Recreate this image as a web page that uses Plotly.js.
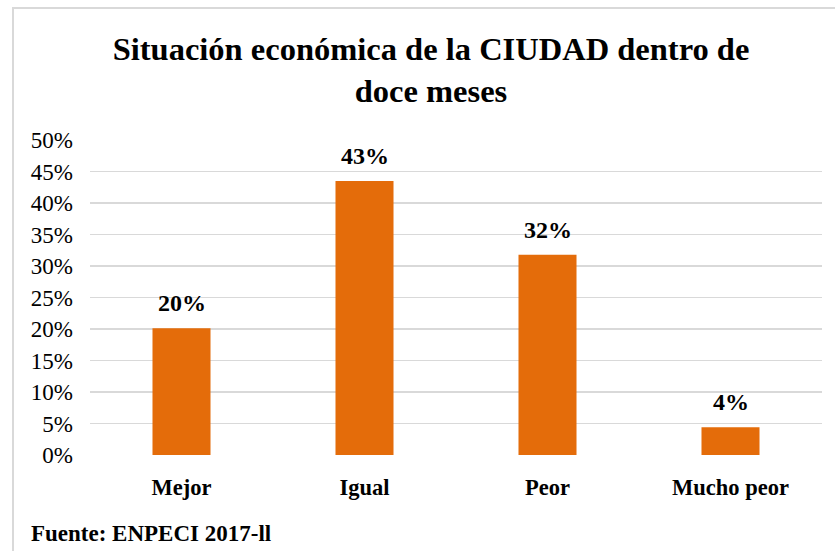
<!DOCTYPE html>
<html>
<head>
<meta charset="utf-8">
<script src="https://cdn.plot.ly/plotly-3.0.1.min.js"></script>
<style>
html, body { margin: 0; padding: 0; background: #ffffff; }
#chart { width: 835px; height: 551px; }
</style>
</head>
<body>
<div id="chart"></div>
<script>
var categories = ["Mejor", "Igual", "Peor", "Mucho peor"];
var values = [0.201, 0.435, 0.318, 0.044];
var valueLabels = ["20%", "43%", "32%", "4%"];
var tickValues = [0, 0.05, 0.10, 0.15, 0.20, 0.25, 0.30, 0.35, 0.40, 0.45, 0.50];
var tickLabels = ["0%", "5%", "10%", "15%", "20%", "25%", "30%", "35%", "40%", "45%", "50%"];
var titleText = "Situación económica de la CIUDAD dentro de<br>doce meses";
var sourceText = "Fuente: ENPECI 2017-ll";

var serif = "'Liberation Serif', 'Times New Roman', Times, serif";

var trace = {
  type: "bar",
  x: categories,
  y: values,
  marker: { color: "#E46C0A" },
  hoverinfo: "none"
};

var annotations = categories.map(function (c, i) {
  return {
    x: c, y: values[i], xref: "x", yref: "y",
    text: "<b>" + valueLabels[i] + "</b>",
    showarrow: false, yanchor: "bottom", yshift: 10,
    font: { family: serif, size: 24, color: "#000000" }
  };
});
annotations.push({
  xref: "paper", yref: "paper",
  x: (29 - 90) / 732, y: (455 - 533) / 315,
  xanchor: "left", yanchor: "middle",
  text: "<b>" + sourceText + "</b>",
  showarrow: false,
  font: { family: serif, size: 23, color: "#000000" }
});

var layout = {
  width: 835, height: 551,
  margin: { l: 90, r: 13, t: 140, b: 96 },
  paper_bgcolor: "#ffffff", plot_bgcolor: "#ffffff",
  showlegend: false,
  bargap: 0.683,
  font: { family: serif },
  title: {
    text: "<b>" + titleText + "</b>",
    font: { family: serif, size: 32.5, color: "#000000" },
    x: 431 / 835, xref: "container", xanchor: "center",
    y: 1 - 60 / 551, yref: "container", yanchor: "top"
  },
  xaxis: {
    type: "category",
    showgrid: false, zeroline: false, showline: false, ticks: "",
    tickfont: { family: serif, size: 22.5, color: "#000000", weight: "bold" },
    ticklabelstandoff: 16
  },
  yaxis: {
    range: [0, 0.5],
    tickvals: tickValues, ticktext: tickLabels,
    showgrid: true, gridcolor: "#d9d9d9", gridwidth: 1.5,
    zeroline: false, showline: false, ticks: "",
    tickfont: { family: serif, size: 23, color: "#000000" },
    ticklabelstandoff: 16
  },
  annotations: annotations,
  shapes: [
    { type: "line", xref: "paper", yref: "paper",
      x0: (12 - 90) / 732, x1: (835 - 90) / 732,
      y0: (455 - 8) / 315, y1: (455 - 8) / 315,
      line: { color: "#d9d9d9", width: 2 } },
    { type: "line", xref: "paper", yref: "paper",
      x0: (13 - 90) / 732, x1: (13 - 90) / 732,
      y0: (455 - 7) / 315, y1: (455 - 551) / 315,
      line: { color: "#d9d9d9", width: 2 } }
  ]
};

Plotly.newPlot("chart", [trace], layout, { displayModeBar: false, staticPlot: true });
</script>
</body>
</html>
